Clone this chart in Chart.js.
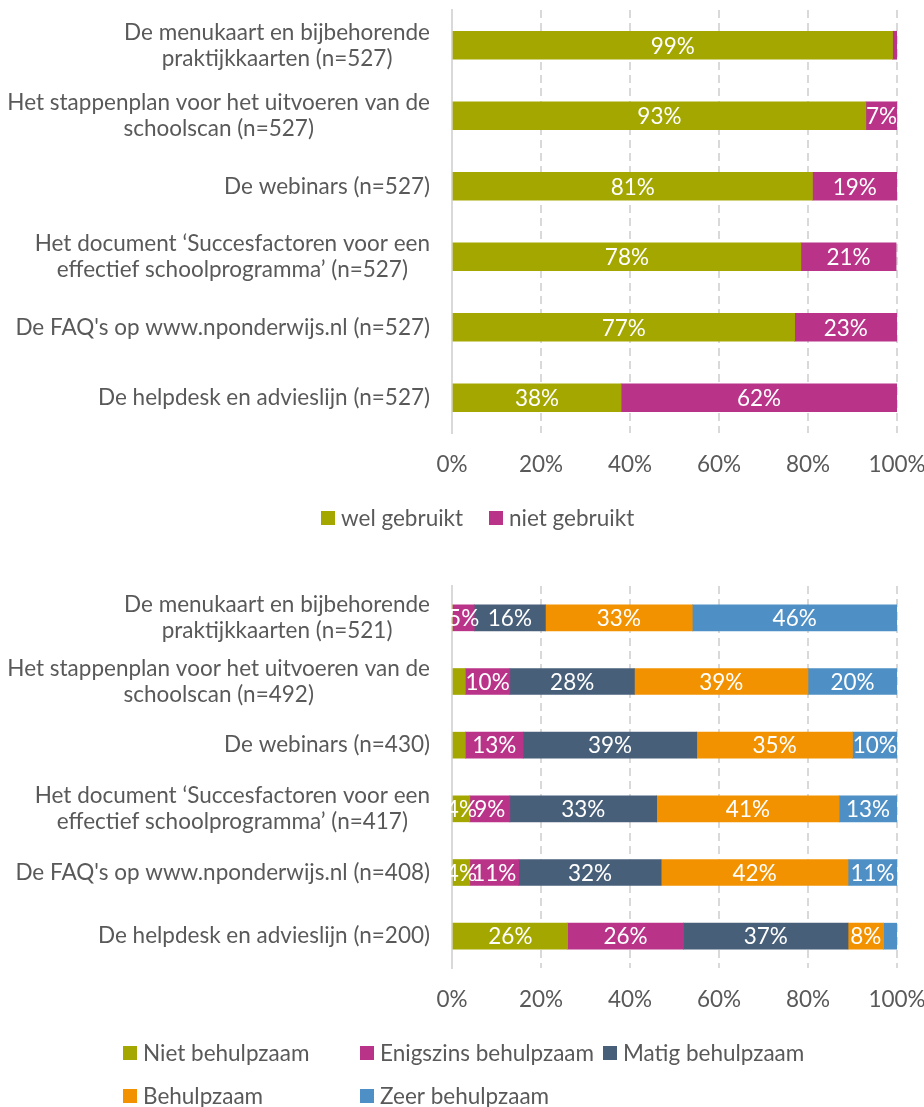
<!DOCTYPE html>
<html>
<head>
<meta charset="utf-8">
<script src="https://cdn.jsdelivr.net/npm/chart.js@4.4.0/dist/chart.umd.min.js"></script>
<style>
  html, body { margin: 0; padding: 0; background: #ffffff; }
  #box1 { position: absolute; left: 0; top: 0; width: 924px; height: 550px; }
  #box2 { position: absolute; left: 0; top: 550px; width: 924px; height: 557px; }
</style>
</head>
<body>
<div id="box1"><canvas id="chart1" width="924" height="550"></canvas></div>
<div id="box2"><canvas id="chart2" width="924" height="557"></canvas></div>
<script>
// ---------- DATA ----------
const usageCategories = [
  ["De menukaart en bijbehorende", "praktijkkaarten (n=527)"],
  ["Het stappenplan voor het uitvoeren van de", "schoolscan (n=527)"],
  "De webinars (n=527)",
  ["Het document \u2018Succesfactoren voor een", "effectief schoolprogramma\u2019 (n=527)"],
  "De FAQ's op www.nponderwijs.nl (n=527)",
  "De helpdesk en advieslijn (n=527)"
];
const welGebruikt   = [99, 93, 81, 78.4, 77, 38];
const nietGebruikt  = [1, 7, 19, 21.4, 23, 62];

const helpCategories = [
  ["De menukaart en bijbehorende", "praktijkkaarten (n=521)"],
  ["Het stappenplan voor het uitvoeren van de", "schoolscan (n=492)"],
  "De webinars (n=430)",
  ["Het document \u2018Succesfactoren voor een", "effectief schoolprogramma\u2019 (n=417)"],
  "De FAQ's op www.nponderwijs.nl (n=408)",
  "De helpdesk en advieslijn (n=200)"
];
const nietBehulpzaam      = [0, 3, 3, 4, 4, 26];
const enigszinsBehulpzaam = [5, 10, 13, 9, 11, 26];
const matigBehulpzaam     = [16, 28, 39, 33, 32, 37];
const behulpzaam          = [33, 39, 35, 41, 42, 8];
const zeerBehulpzaam      = [46, 20, 10, 13, 11, 3];

const xTickLabels = ["0%", "20%", "40%", "60%", "80%", "100%"];

// ---------- STYLE ----------
const FONT_FAMILY = "Lato, 'Open Sans', sans-serif";
const FONT_SIZE = 22.5;
const TEXT_COLOR = "#595959";
const GRID_COLOR = "#d9d9d9";
const C_OLIVE = "#a3a700";
const C_MAGENTA = "#b93389";
const C_SLATE = "#475f79";
const C_ORANGE = "#f29200";
const C_BLUE = "#4e8fc5";

// ---------- PLUGINS ----------
const catLabelPlugin = {
  id: "catLabels",
  afterDraw(chart, args, opts) {
    const ctx = chart.ctx;
    const yScale = chart.scales.y;
    ctx.save();
    ctx.font = FONT_SIZE + "px " + FONT_FAMILY;
    ctx.fillStyle = TEXT_COLOR;
    ctx.textAlign = "center";
    ctx.textBaseline = "middle";
    chart.data.labels.forEach((lab, i) => {
      const lines = Array.isArray(lab) ? lab : [lab];
      const w = Math.max(...lines.map(l => ctx.measureText(l).width));
      const cx = opts.right - w / 2;
      const cy = yScale.getPixelForValue(i);
      lines.forEach((l, k) => {
        ctx.fillText(l, cx, cy + (k - (lines.length - 1) / 2) * opts.lineHeight);
      });
    });
    ctx.restore();
  }
};

const valueLabelPlugin = {
  id: "valueLabels",
  afterDatasetsDraw(chart, args, opts) {
    const ctx = chart.ctx;
    ctx.save();
    ctx.font = FONT_SIZE + "px " + FONT_FAMILY;
    ctx.fillStyle = "#ffffff";
    ctx.textAlign = "center";
    ctx.textBaseline = "middle";
    chart.data.datasets.forEach((ds, di) => {
      const meta = chart.getDatasetMeta(di);
      meta.data.forEach((el, i) => {
        const v = ds.data[i];
        if (v < opts.minValue) return;
        const p = el.getProps(["x", "base", "y"], true);
        ctx.fillText(Math.round(v) + "%", (p.x + p.base) / 2, p.y + 1);
      });
    });
    ctx.restore();
  }
};

const gridLegendPlugin = {
  id: "gridLegend",
  afterDraw(chart, args, opts) {
    const ctx = chart.ctx;
    ctx.save();
    ctx.font = FONT_SIZE + "px " + FONT_FAMILY;
    ctx.textAlign = "left";
    ctx.textBaseline = "middle";
    opts.positions.forEach((pos, di) => {
      const ds = chart.data.datasets[di];
      ctx.fillStyle = ds.backgroundColor;
      ctx.fillRect(pos[0], pos[1] - 7, 14, 14);
      ctx.fillStyle = TEXT_COLOR;
      ctx.fillText(ds.label, pos[0] + 20, pos[1] + 1);
    });
    ctx.restore();
  }
};

function makeOptions(padTop, xAxisHeight, legendPositions) {
  return {
    responsive: false,
    animation: false,
    indexAxis: "y",
    layout: { padding: { top: padTop, right: 27, bottom: 0, left: 0 } },
    scales: {
      x: {
        stacked: true,
        min: 0,
        max: 100,
        afterFit(scale) {
          scale.height = xAxisHeight;
          scale.paddingLeft = 0;
          scale.paddingRight = 0;
        },
        ticks: {
          stepSize: 20,
          padding: 18,
          color: TEXT_COLOR,
          font: { family: FONT_FAMILY, size: FONT_SIZE },
          callback: (v, i) => xTickLabels[i]
        },
        grid: {
          drawTicks: false,
          lineWidth: 2,
          color: ctx => (ctx.index === 0 ? "rgba(0,0,0,0)" : GRID_COLOR)
        },
        border: { display: false, dash: [8, 5] }
      },
      y: {
        stacked: true,
        afterFit(scale) { scale.width = 452; },
        ticks: { display: false },
        grid: { display: false, drawTicks: false },
        border: { display: true, color: GRID_COLOR, width: 2 }
      }
    },
    plugins: {
      legend: { display: false },
      tooltip: { enabled: false },
      catLabels: { right: 430, lineHeight: 26 },
      valueLabels: { minValue: 4 },
      gridLegend: { positions: legendPositions }
    }
  };
}

function ds(label, data, color, thickness) {
  return { label, data, backgroundColor: color, borderWidth: 0, barThickness: thickness };
}

new Chart(document.getElementById("chart1"), {
  type: "bar",
  data: {
    labels: usageCategories,
    datasets: [
      ds("wel gebruikt", welGebruikt, C_OLIVE, 28),
      ds("niet gebruikt", nietGebruikt, C_MAGENTA, 28)
    ]
  },
  options: makeOptions(10, 117, [[321, 518], [489, 518]]),
  plugins: [catLabelPlugin, valueLabelPlugin, gridLegendPlugin]
});

new Chart(document.getElementById("chart2"), {
  type: "bar",
  data: {
    labels: helpCategories,
    datasets: [
      ds("Niet behulpzaam", nietBehulpzaam, C_OLIVE, 26),
      ds("Enigszins behulpzaam", enigszinsBehulpzaam, C_MAGENTA, 26),
      ds("Matig behulpzaam", matigBehulpzaam, C_SLATE, 26),
      ds("Behulpzaam", behulpzaam, C_ORANGE, 26),
      ds("Zeer behulpzaam", zeerBehulpzaam, C_BLUE, 26)
    ]
  },
  options: makeOptions(36, 139, [[123, 503], [360, 503], [603, 503], [123, 546], [360, 546]]),
  plugins: [catLabelPlugin, valueLabelPlugin, gridLegendPlugin]
});
</script>
</body>
</html>
